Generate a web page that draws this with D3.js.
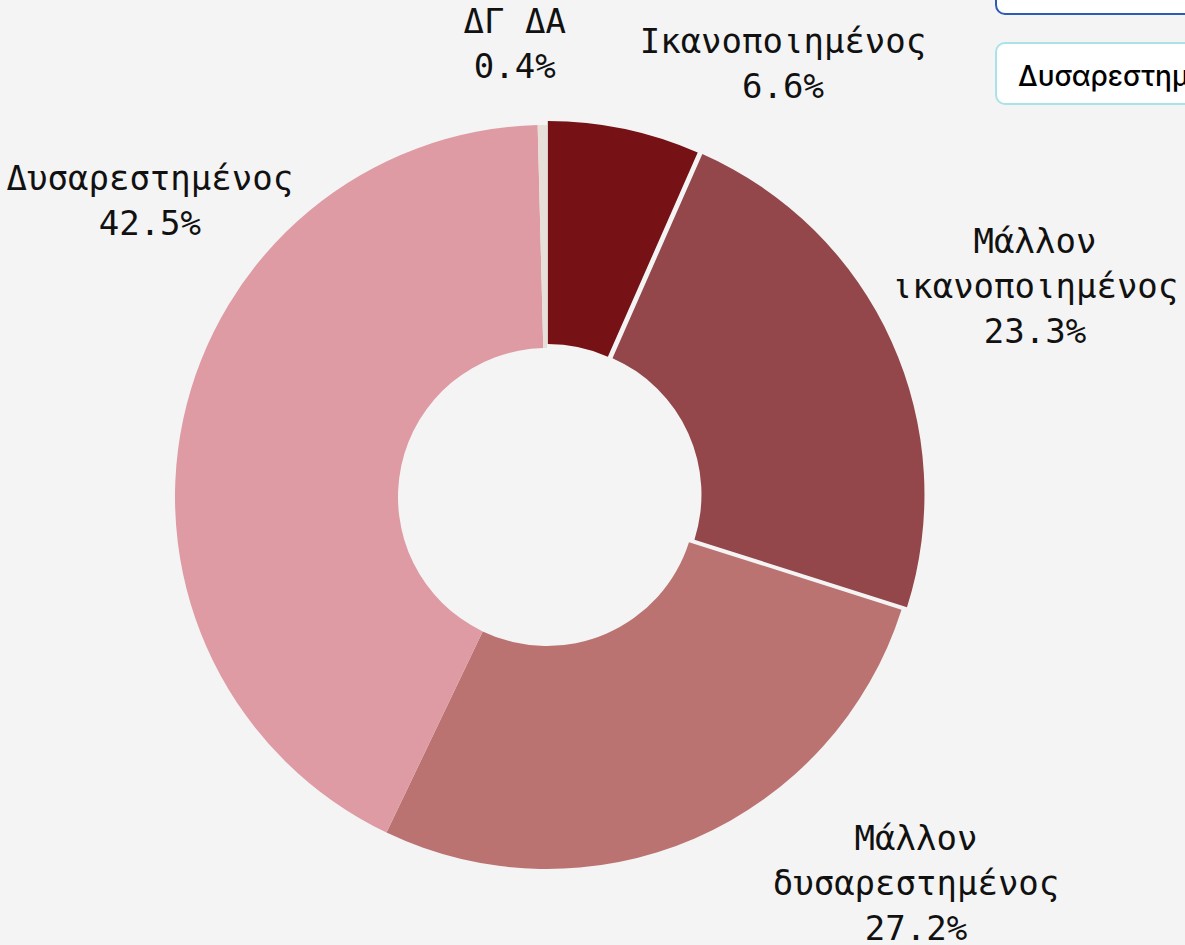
<!DOCTYPE html>
<html>
<head>
<meta charset="utf-8">
<script src="https://cdn.jsdelivr.net/npm/d3@7"></script>
<style>
  html, body { margin: 0; padding: 0; background: #f4f4f4; overflow: hidden; }
  svg { display: block; }
</style>
</head>
<body>
<div id="chart"></div>
<script>
var svgWidth = 1185;
var svgHeight = 945;

// categories and values (percent), clockwise from 12 o'clock
var categories = ["Ικανοποιημένος", "Μάλλον ικανοποιημένος", "Μάλλον δυσαρεστημένος", "Δυσαρεστημένος", "ΔΓ ΔΑ"];
var values = [6.6, 23.3, 27.2, 42.5, 0.4];
// label text, split into lines
var labelLines = [
  ["Ικανοποιημένος"],
  ["Μάλλον", "ικανοποιημένος"],
  ["Μάλλον", "δυσαρεστημένος"],
  ["Δυσαρεστημένος"],
  ["ΔΓ ΔΑ"]
];
var colors = ["#761116", "#93474a", "#bb7371", "#de9ba4", "#e6e0d8"];
// legend entries visible at the top right (list is scrolled)
var legendItems = ["Μάλλον δυσαρεστημένος", "Δυσαρεστημένος"];
var legendBorders = ["#2b5db3", "#a9e3e6"];

// layout
var cx = 547, cy = 497;
var outerR = 372, innerR = 149;
var explode = [4, 6, 0, 0, 0];
// label placement: angle (deg, clockwise from top) and distance of the last line's baseline
var labelAngle = [30.6, 72.5, 140.2, -56.6, -4.4];
var labelRadius = [463.6, 511.7, 576.5, 475.7, 420.2];
var lineGap = 45;

var svg = d3.select("#chart")
  .append("svg")
  .attr("width", svgWidth)
  .attr("height", svgHeight)
  .style("background", "#f4f4f4");

var data = categories.map(function(c, i) {
  return { name: c, value: values[i], i: i };
});

var pie = d3.pie()
  .sort(null)
  .value(d => d.value)
  .startAngle(0)
  .endAngle(2 * Math.PI);

var arc = d3.arc()
  .innerRadius(innerR)
  .outerRadius(outerR);

var g = svg.append("g")
  .attr("transform", "translate(" + cx + "," + cy + ")");

var arcs = pie(data);

g.selectAll("path.slice")
  .data(arcs)
  .enter()
  .append("path")
  .attr("class", "slice")
  .attr("fill", d => colors[d.data.i])
  .attr("transform", function(d) {
    var mid = (d.startAngle + d.endAngle) / 2;
    var p = d3.pointRadial(mid, explode[d.data.i]);
    return "translate(" + p[0] + "," + p[1] + ")";
  })
  .attr("d", arc);

// labels
g.selectAll("text.label")
  .data(arcs)
  .enter()
  .append("text")
  .attr("class", "label")
  .attr("text-anchor", "middle")
  .style("font-family", "'DejaVu Sans Mono', monospace")
  .style("font-size", "34px")
  .attr("fill", "#111")
  .each(function(d) {
    var i = d.data.i;
    var p = d3.pointRadial(labelAngle[i] * Math.PI / 180, labelRadius[i]);
    var lines = labelLines[i].concat([d3.format(".1f")(d.data.value) + "%"]);
    var n = lines.length;
    var t = d3.select(this);
    lines.forEach(function(line, k) {
      t.append("tspan")
        .attr("x", p[0])
        .attr("y", p[1] - (n - 1 - k) * lineGap)
        .text(line);
    });
  });

// legend buttons (partly outside the view)
var legend = svg.append("g");
legendItems.forEach(function(name, k) {
  var y0 = -47 + k * 90;
  legend.append("rect")
    .attr("x", 996)
    .attr("y", y0)
    .attr("width", 300)
    .attr("height", 61)
    .attr("rx", 9)
    .attr("fill", "#ffffff")
    .attr("stroke", legendBorders[k])
    .attr("stroke-width", 2);
  legend.append("text")
    .attr("x", 1018)
    .attr("y", y0 + 43)
    .style("font-family", "Inter, 'Noto Sans', sans-serif")
    .style("font-size", "28px")
    .style("font-weight", 500)
    .attr("fill", "#000")
    .text(name);
});
</script>
</body>
</html>
